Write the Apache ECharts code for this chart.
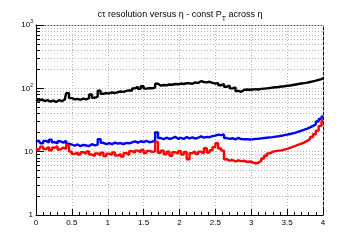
<!DOCTYPE html>
<html>
<head>
<meta charset="utf-8">
<script src="https://cdn.jsdelivr.net/npm/echarts@6/dist/echarts.min.js"></script>
<style>
html, body { margin: 0; padding: 0; background: #fff; }
#chart { width: 360px; height: 240px; }
</style>
</head>
<body>
<div id="chart"></div>
<script>
// eta bin positions
const etaBins = [
  0.00, 0.04, 0.08, 0.12, 0.16, 0.20, 0.24, 0.28, 0.32, 0.36,
  0.40, 0.44, 0.48, 0.52, 0.56, 0.60, 0.64, 0.68, 0.72, 0.76,
  0.80, 0.84, 0.88, 0.92, 0.96, 1.00, 1.04, 1.08, 1.12, 1.16,
  1.20, 1.24, 1.28, 1.32, 1.36, 1.40, 1.44, 1.48, 1.52, 1.56,
  1.60, 1.64, 1.68, 1.72, 1.76, 1.80, 1.84, 1.88, 1.92, 1.96,
  2.00, 2.04, 2.08, 2.12, 2.16, 2.20, 2.24, 2.28, 2.32, 2.36,
  2.40, 2.44, 2.48, 2.52, 2.56, 2.60, 2.64, 2.68, 2.72, 2.76,
  2.80, 2.84, 2.88, 2.92, 2.96, 3.00, 3.04, 3.08, 3.12, 3.16,
  3.20, 3.24, 3.28, 3.32, 3.36, 3.40, 3.44, 3.48, 3.52, 3.56,
  3.60, 3.64, 3.68, 3.72, 3.76, 3.80, 3.84, 3.88, 3.92, 3.96,
  4.00
];

// black trace
const blackValues = [
  66, 64, 67, 63, 65, 62, 64, 61, 65, 63,
  66, 84, 70, 67, 68, 66, 69, 67, 70, 80,
  71, 74, 92, 82, 84, 83, 86, 84, 87, 89,
  88, 91, 93, 92, 100, 106, 98, 108, 99, 101,
  100, 103, 118, 110, 113, 112, 115, 114, 117, 116,
  119, 117, 121, 120, 118, 124, 121, 130, 126, 124,
  127, 122, 119, 121, 112, 117, 106, 110, 100, 104,
  91, 88, 94, 96, 95, 96, 97, 96, 98, 99,
  100, 101, 103, 104, 105, 107, 108, 110, 111, 113,
  115, 117, 119, 121, 123, 126, 129, 132, 136, 140,
  146
];

// blue trace
const blueValues = [
  14.2, 15.0, 13.6, 14.8, 14.0, 15.4, 14.1, 13.5, 14.6, 13.9,
  14.8, 13.4, 12.9, 12.4, 13.0, 12.2, 12.8, 12.5, 12.3, 13.1,
  12.6, 12.9, 15.8, 13.8, 13.2, 13.6, 13.1, 13.9, 13.4, 13.7,
  13.2, 13.8, 13.5, 14.0, 14.5, 13.9, 14.6, 14.2, 14.8, 14.1,
  14.4, 14.9, 20.2, 16.4, 15.8, 16.6, 15.9, 16.3, 17.2, 16.0,
  16.5, 15.9, 17.0, 16.2, 16.8, 16.1, 16.6, 17.4, 16.7, 17.1,
  16.9, 17.6, 17.9, 18.6, 18.2, 18.7, 16.4, 15.9, 16.3, 15.6,
  16.5, 15.8, 15.7, 15.8, 15.6, 15.7, 15.9, 16.0, 16.2, 16.4,
  16.6, 16.8, 17.0, 17.3, 17.5, 17.8, 18.2, 18.6, 19.0, 19.5,
  20.0, 20.8, 21.5, 22.3, 23.2, 24.2, 25.5, 27.0, 30.0, 33.0,
  36.0
];

// red trace
const redValues = [
  11.2, 10.6, 12.0, 11.0, 11.8, 10.5, 11.5, 12.2, 10.8, 11.6,
  11.1, 12.8, 10.0, 9.2, 9.7, 9.0, 9.8, 9.3, 10.1, 9.0,
  8.6, 9.4, 8.8, 9.6, 8.5, 9.3, 8.9, 9.7, 8.7, 9.2,
  8.4, 9.5, 8.9, 10.2, 9.6, 10.4, 9.8, 10.6, 9.5, 10.3,
  9.9, 10.1, 14.2, 9.6, 10.4, 9.1, 10.0, 8.6, 9.8, 9.3,
  10.2, 9.0, 9.9, 7.6, 9.5, 10.1, 9.2, 10.0, 9.4, 11.3,
  9.7, 10.5, 11.8, 13.6, 11.2, 10.4, 7.6, 7.2, 7.4, 7.0,
  7.3, 7.1, 7.2, 6.9, 7.0, 6.8, 6.5, 6.7, 7.2, 7.8,
  8.6, 9.4, 10.0, 10.2, 10.4, 10.5, 10.8, 11.1, 11.5, 11.9,
  12.4, 12.9, 13.4, 14.0, 14.8, 15.8, 17.0, 18.8, 21.5, 25.5,
  31.0
];

// log axis ticks
const majorTicks = [1, 10, 100, 1000];
const minorTicks = [2, 3, 4, 5, 6, 7, 8, 9, 20, 30, 40, 50, 60, 70, 80, 90, 200, 300, 400, 500, 600, 700, 800, 900];

const pairs = (vals) => etaBins.map((x, i) => [x, vals[i]]);

const FONT = "Liberation Sans";
const gridDots = { color: "#b4b4b4", type: [1, 2], width: 1 };

const chart = echarts.init(document.getElementById("chart"), null, { renderer: "canvas" });

chart.setOption({
  animation: false,
  backgroundColor: "#fff",
  title: {
    text: "{a|c\u03c4 resolution versus \u03b7 - const P}{s|T}{a| across \u03b7}",
    left: "center",
    top: 2,
    textStyle: {
      fontWeight: "normal",
      rich: {
        a: { fontFamily: FONT, fontSize: 9, fontWeight: "normal", color: "#000" },
        s: { fontFamily: FONT, fontSize: 7, fontWeight: "normal", color: "#000", padding: [9, 0, 0, 0] }
      }
    }
  },
  grid: { left: 36, right: 37, top: 25, bottom: 25 },
  xAxis: [
    {
      type: "value",
      position: "bottom",
      min: 0,
      max: 4,
      interval: 0.5,
      axisLine: { lineStyle: { color: "#000", width: 1 } },
      axisTick: { inside: true, length: 6, lineStyle: { color: "#000" } },
      minorTick: { show: true, splitNumber: 5, length: 3, lineStyle: { color: "#000" } },
      splitLine: { show: true, lineStyle: gridDots },
      axisLabel: { fontFamily: FONT, fontSize: 8, color: "#000", margin: 4 }
    },
    {
      type: "value",
      position: "top",
      min: 0,
      max: 4,
      axisLine: { show: true, lineStyle: { color: "#555", type: [1, 2] } },
      axisTick: { show: false },
      axisLabel: { show: false },
      splitLine: { show: false }
    }
  ],
  yAxis: [
    {
      type: "log",
      logBase: 10,
      position: "left",
      min: 1,
      max: 1000,
      axisLine: { show: true, lineStyle: { color: "#000", width: 1 } },
      axisTick: { inside: true, length: 8, customValues: majorTicks, lineStyle: { color: "#000" } },
      splitLine: { show: true, lineStyle: gridDots },
      axisLabel: {
        customValues: majorTicks,
        margin: 3,
        fontFamily: FONT,
        fontSize: 8,
        color: "#000",
        formatter: (v) => {
          if (v === 1) return "1";
          if (v === 10) return "10";
          return "{b|10}{e|" + Math.round(Math.log10(v)) + "}";
        },
        rich: {
          b: { fontFamily: FONT, fontSize: 8, color: "#000" },
          e: { fontFamily: FONT, fontSize: 5, color: "#000", padding: [0, 0, 6, 0] }
        }
      }
    },
    {
      type: "log",
      logBase: 10,
      position: "left",
      min: 1,
      max: 1000,
      axisLine: { show: false },
      axisTick: { inside: true, length: 4, customValues: minorTicks, lineStyle: { color: "#000" } },
      splitLine: { show: true, lineStyle: gridDots },
      axisLabel: { show: false }
    },
    {
      type: "log",
      logBase: 10,
      position: "right",
      min: 1,
      max: 1000,
      axisLine: { show: true, lineStyle: { color: "#000", type: [3, 2] } },
      axisTick: { show: false },
      axisLabel: { show: false },
      splitLine: { show: false }
    }
  ],
  series: [
    {
      name: "black",
      type: "line",
      data: pairs(blackValues),
      step: "middle",
      showSymbol: false,
      lineStyle: { color: "#000", width: 2.4 }
    },
    {
      name: "blue",
      type: "line",
      data: pairs(blueValues),
      step: "middle",
      showSymbol: false,
      lineStyle: { color: "#0000ff", width: 2.4 }
    },
    {
      name: "red",
      type: "line",
      data: pairs(redValues),
      step: "middle",
      showSymbol: false,
      lineStyle: { color: "#ff0000", width: 2.4 }
    }
  ]
});
</script>
</body>
</html>
